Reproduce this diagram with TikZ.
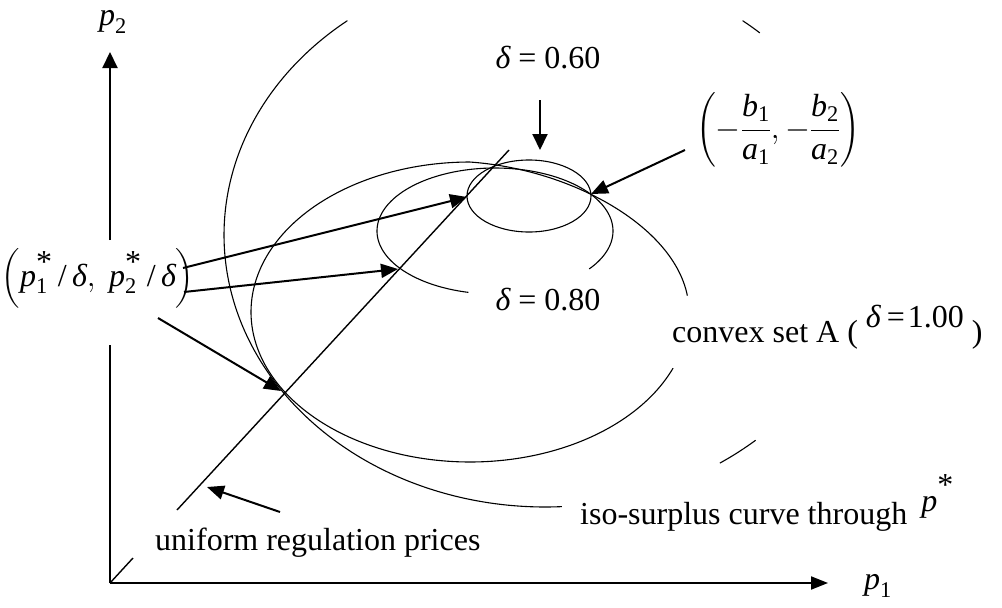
\RequirePackage{fix-cm}
\documentclass[tikz,border=0pt]{standalone}
\usepackage{amsmath}
\usepackage{fontspec}
\setmainfont{Liberation Serif}
\usetikzlibrary{arrows.meta}
\newcommand\ti[1]{\text{\itshape #1}}
\tikzset{
  lbl/.style={font=\fontsize{32}{38}\selectfont, inner sep=0pt},
  curve/.style={line width=1.1pt},
  ray/.style={line width=1.4pt},
  axis/.style={line width=2pt},
  ptr/.style={line width=2pt, -{Triangle[length=17pt,width=14pt]}},
}
\begin{document}
\begin{tikzpicture}[x=1pt,y=-1pt]
\useasboundingbox (0,0) rectangle (1002,608);
% axes
\coordinate (O) at (110,583);
\coordinate (ytip) at (110,52);
\coordinate (ygapTop) at (110,240);
\coordinate (ygapBot) at (110,345);
\coordinate (xtip) at (828,583);
\draw[axis] (O) -- (ygapBot);
\draw[axis,-{Triangle[length=16pt,width=15pt]}] (ygapTop) -- (ytip);
\draw[axis,-{Triangle[length=17pt,width=13pt]}] (O) -- (xtip);
% uniform regulation line
\coordinate (u1) at (133,558);
\coordinate (u2) at (177,510);
\coordinate (u3) at (509,150);
\draw[ray] (O) -- (u1);
\draw[ray] (u2) -- (u3);
% iso-surplus curve
\draw[curve] plot[domain=128:273, samples=150] ({545+321*cos(\x)},{235-272*sin(\x)});
\draw[curve] plot[domain=303:311, samples=12] ({545+321*cos(\x)},{235-272*sin(\x)});
\draw[curve] plot[domain=48:52, samples=6] ({545+321*cos(\x)},{235-272*sin(\x)});
% convex set A
\draw[curve] plot[domain=7:338, samples=220] ({470+219*cos(\x)},{312-150*sin(\x)+(\x<90)*8*sin(2*\x)});
% delta = 0.80
\draw[curve] plot[domain=-37:257, samples=160] ({495+118*cos(\x)},{231-63*sin(\x)});
% delta = 0.60
\draw[curve] (529,196) ellipse [x radius=62pt, y radius=36pt];
% labels
\node[lbl] (p2) at (113,22) {$\ti{p}_{\text{2}}$};
\node[lbl] (p1) at (878,586) {$\ti{p}_{\text{1}}$};
\node[lbl] (d60) at (548,58) {\ti{δ} = 0.60};
\node[lbl] (d80) at (548,300) {\ti{δ} = 0.80};
\node[lbl] (ba) at (778,130) {$\left(-\dfrac{\ti{b}_{\text{1}}}{\ti{a}_{\text{1}}}, -\dfrac{\ti{b}_{\text{2}}}{\ti{a}_{\text{2}}}\right)$};
\node[lbl] (ps) at (98,278) {$\left(\ti{p}_{\text{1}}^{\raisebox{2pt}{\text{*}}}\,\text{/}\,\ti{δ},\ \ti{p}_{\text{2}}^{\raisebox{2pt}{\text{*}}}\,\text{/}\,\ti{δ}\right)$};
\node[lbl,anchor=base west] (cvx) at (672,342) {convex set A ( \raisebox{15pt}{\ti{δ}\hspace{6pt}=\hspace{3pt}1.00} )};
\node[lbl,anchor=base west] (uni) at (155,550) {uniform regulation prices};
\node[lbl,anchor=base west] (iso) at (580,524) {iso-surplus curve through\hspace{14pt}\raisebox{13pt}{$\ti{p}^{\raisebox{4pt}{\text{*}}}$}};
% pointer arrows
\coordinate (P60) at (467,197);
\coordinate (P80) at (398,269);
\coordinate (P100) at (281,391);
\coordinate (K) at (591,194);
\coordinate (s1) at (183,268);
\coordinate (s2) at (184,292);
\coordinate (s3) at (158,318);
\coordinate (d60s) at (540,100);
\coordinate (d60e) at (540,150);
\coordinate (bas) at (685,150);
\coordinate (unis) at (280,512);
\coordinate (unie) at (207,487);
\draw[ptr] (s1) -- (P60);
\draw[ptr] (s2) -- (P80);
\draw[ptr] (s3) -- (P100);
\draw[ptr,-{Triangle[length=16pt,width=15pt]}] (d60s) -- (d60e);
\draw[ptr] (bas) -- (K);
\draw[ptr] (unis) -- (unie);
\end{tikzpicture}
\end{document}
